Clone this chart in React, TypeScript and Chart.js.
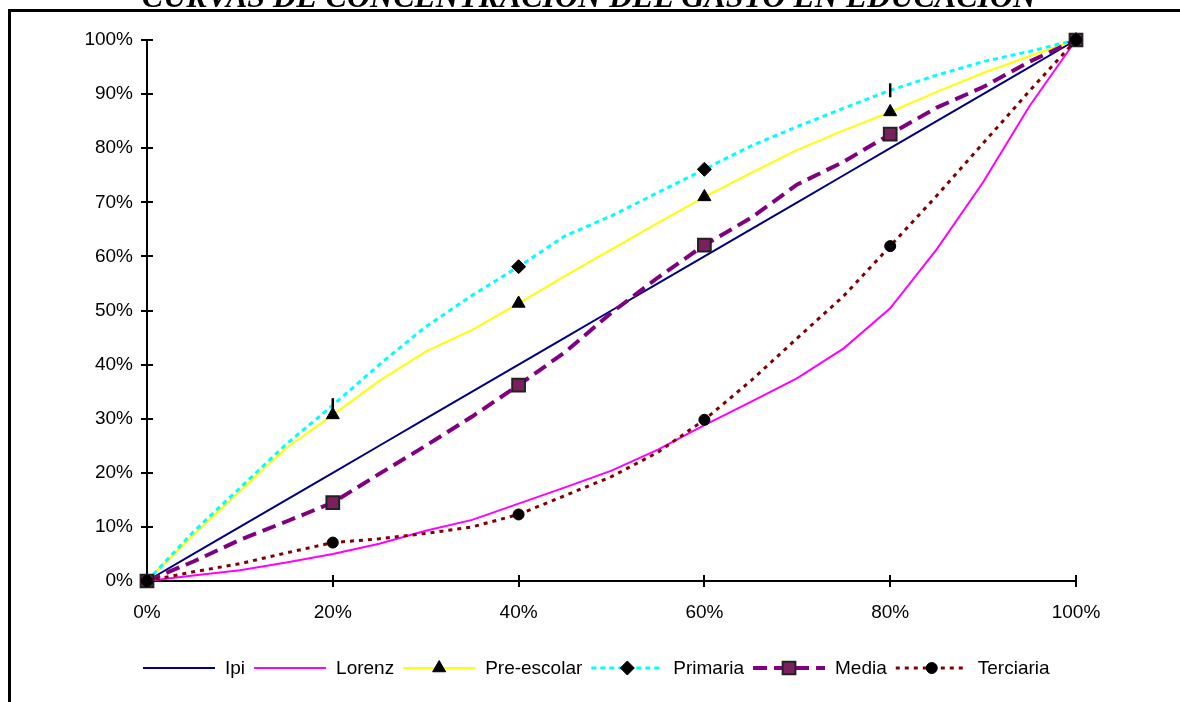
import React, { useEffect, useRef } from 'react';
import { Chart, registerables } from 'chart.js';
import { drawPoint } from 'chart.js/helpers';

Chart.register(...registerables);

const TITLE = 'CURVAS DE CONCENTRACIÓN DEL GASTO EN EDUCACIÓN';

// cumulative share of population (%)
const pct = [0, 5, 10, 15, 20, 25, 30, 35, 40, 45, 50, 55, 60, 65, 70, 75, 80, 85, 90, 95, 100];
const xTickValues = [0, 20, 40, 60, 80, 100];
const yTickValues = [0, 10, 20, 30, 40, 50, 60, 70, 80, 90, 100];

// cumulative share of spending (%)
const ipi = [0, 5, 10, 15, 20, 25, 30, 35, 40, 45, 50, 55, 60, 65, 70, 75, 80, 85, 90, 95, 100];
const lorenz = [0, 1.0, 2.0, 3.4, 5.0, 6.9, 9.3, 11.3, 14.3, 17.3, 20.4, 24.3, 28.8, 33.1, 37.5, 43.0, 50.4, 61.3, 73.7, 87.8, 100];
const preEscolar = [0, 8.5, 16.6, 24.6, 30.7, 37.0, 42.4, 46.4, 51.3, 56.4, 61.3, 66.2, 71.0, 75.4, 79.7, 83.3, 86.7, 90.4, 93.9, 97.0, 100];
const primaria = [0, 9.1, 17.2, 25.3, 32.5, 40.0, 47.0, 52.8, 58.1, 63.8, 67.5, 71.8, 76.1, 80.4, 84.0, 87.4, 90.7, 93.5, 96.0, 97.9, 100];
const media = [0, 3.6, 7.6, 11.0, 14.5, 19.8, 25.0, 30.4, 36.2, 42.3, 49.6, 56.1, 62.1, 67.1, 73.3, 77.5, 82.6, 87.5, 91.3, 96.0, 100];
const terciaria = [0, 1.7, 3.2, 5.2, 7.1, 7.8, 8.8, 10.0, 12.3, 15.8, 19.3, 23.8, 29.8, 37.0, 44.9, 52.7, 61.9, 71.2, 80.9, 90.6, 100];

const seriesNames = ['Ipi', 'Lorenz', 'Pre-escolar', 'Primaria', 'Media', 'Terciaria'];

const FONT = '"Liberation Sans", Arial, sans-serif';

const isMarker = (i: number) => pct[i] % 20 === 0;

type MarkerStyle = { style: string; radius: number; fill: string; stroke: string; width: number } | null;

const legendMarkers: MarkerStyle[] = [
  null,
  null,
  { style: 'triangle', radius: 7.5, fill: '#000', stroke: '#000', width: 1 },
  { style: 'rectRot', radius: 7, fill: '#000', stroke: '#000', width: 1 },
  { style: 'rect', radius: 9, fill: '#7B1F5E', stroke: '#222', width: 2 },
  { style: 'circle', radius: 5.5, fill: '#000', stroke: '#000', width: 1 },
];

const framePlugin = {
  id: 'frameTitle',
  beforeDraw(chart: any) {
    const ctx = chart.ctx;
    ctx.save();
    ctx.fillStyle = '#fff';
    ctx.fillRect(0, 0, chart.width, chart.height);
    ctx.fillStyle = '#000';
    ctx.fillRect(8, 9, chart.width - 8, 3);
    ctx.fillRect(8, 9, 3, chart.height - 9);
    ctx.font = 'bold italic 32px "Liberation Serif", "Times New Roman", serif';
    ctx.textAlign = 'center';
    ctx.textBaseline = 'alphabetic';
    ctx.fillText(TITLE, 589, 7);
    ctx.restore();
  },
};

const axesPlugin = {
  id: 'crossTicks',
  afterDatasetsDraw(chart: any) {
    const ctx = chart.ctx;
    const xs = chart.scales.x;
    const ys = chart.scales.y;
    const area = chart.chartArea;
    ctx.save();
    ctx.strokeStyle = '#000';
    ctx.lineWidth = 2;
    ctx.beginPath();
    ys.ticks.forEach((t: any) => {
      const py = Math.round(ys.getPixelForValue(t.value));
      ctx.moveTo(area.left - 6, py);
      ctx.lineTo(area.left + 6, py);
    });
    xs.ticks.forEach((t: any) => {
      const px = Math.round(xs.getPixelForValue(t.value));
      ctx.moveTo(px, area.bottom - 6);
      ctx.lineTo(px, area.bottom + 6);
    });
    ctx.stroke();
    ctx.restore();
  },
};

const legendPlugin = {
  id: 'lineLegend',
  afterDraw(chart: any) {
    const ctx = chart.ctx;
    const y = 668;
    let x = chart.chartArea.left - 4;
    ctx.save();
    ctx.font = `19px ${FONT}`;
    ctx.textBaseline = 'middle';
    ctx.textAlign = 'left';
    chart.data.datasets.forEach((ds: any, i: number) => {
      ctx.beginPath();
      ctx.setLineDash(ds.borderDash || []);
      ctx.lineWidth = ds.borderWidth;
      ctx.strokeStyle = ds.borderColor;
      ctx.moveTo(x, y);
      ctx.lineTo(x + 72, y);
      ctx.stroke();
      ctx.setLineDash([]);
      const m = legendMarkers[i];
      if (m) {
        ctx.fillStyle = m.fill;
        ctx.strokeStyle = m.stroke;
        ctx.lineWidth = m.width;
        drawPoint(ctx, { pointStyle: m.style as any, radius: m.radius, rotation: 0, borderWidth: m.width }, x + 36, y);
      }
      ctx.fillStyle = '#000';
      const label = seriesNames[i];
      ctx.fillText(label, x + 82, y + 1);
      x += 82 + ctx.measureText(label).width + 9;
    });
    ctx.restore();
  },
};

export default function App() {
  const ref = useRef<HTMLCanvasElement | null>(null);

  useEffect(() => {
    if (!ref.current) return;
    const mk = (vals: number[]) => vals.map((v, i) => ({ x: pct[i], y: v }));
    const chart = new Chart(ref.current, {
      type: 'line',
      data: {
        datasets: [
          {
            label: seriesNames[0],
            data: mk(ipi),
            borderColor: '#000080',
            borderWidth: 2,
            pointRadius: 0,
            order: 5,
            clip: false,
          },
          {
            label: seriesNames[1],
            data: mk(lorenz),
            borderColor: '#FF00FF',
            borderWidth: 2,
            pointRadius: 0,
            order: 4,
            clip: false,
          },
          {
            label: seriesNames[2],
            data: mk(preEscolar),
            borderColor: '#FFFF00',
            borderWidth: 2,
            pointStyle: 'triangle',
            pointRadius: (c: any) => (isMarker(c.dataIndex) ? 7.5 : 0),
            pointBackgroundColor: '#000',
            pointBorderColor: '#000',
            pointBorderWidth: 1,
            order: 3,
            clip: false,
          },
          {
            label: seriesNames[3],
            data: mk(primaria),
            borderColor: '#00FFFF',
            borderWidth: 3,
            borderDash: [5, 4],
            pointStyle: (c: any) => (pct[c.dataIndex] === 20 || pct[c.dataIndex] === 80 ? 'line' : 'rectRot'),
            pointRotation: (c: any) => (pct[c.dataIndex] === 20 || pct[c.dataIndex] === 80 ? 90 : 0),
            pointRadius: (c: any) => (isMarker(c.dataIndex) ? 7 : 0),
            pointBackgroundColor: '#000',
            pointBorderColor: '#000',
            pointBorderWidth: (c: any) => (pct[c.dataIndex] === 20 || pct[c.dataIndex] === 80 ? 2.5 : 1),
            order: 2,
            clip: false,
          },
          {
            label: seriesNames[4],
            data: mk(media),
            borderColor: '#800080',
            borderWidth: 4,
            borderDash: [14, 7],
            pointStyle: 'rect',
            pointRadius: (c: any) => (isMarker(c.dataIndex) ? 9 : 0),
            pointBackgroundColor: '#7B1F5E',
            pointBorderColor: '#222',
            pointBorderWidth: 2,
            order: 1,
            clip: false,
          },
          {
            label: seriesNames[5],
            data: mk(terciaria),
            borderColor: '#800000',
            borderWidth: 3,
            borderDash: [4, 5],
            pointStyle: 'circle',
            pointRadius: (c: any) => (isMarker(c.dataIndex) ? 5.5 : 0),
            pointBackgroundColor: '#000',
            pointBorderColor: '#000',
            pointBorderWidth: 1,
            order: 0,
            clip: false,
          },
        ] as any,
      },
      options: {
        responsive: false,
        animation: false,
        events: [],
        layout: { padding: { left: 0, top: 40, right: 104, bottom: 0 } },
        plugins: {
          legend: { display: false },
          title: { display: false },
          tooltip: { enabled: false },
        },
        elements: { line: { tension: 0 } },
        scales: {
          x: {
            type: 'linear',
            min: 0,
            max: 100,
            afterBuildTicks: (s: any) => {
              s.ticks = xTickValues.map((v) => ({ value: v }));
            },
            afterFit: (s: any) => {
              s.height = 121;
            },
            grid: { display: false },
            border: { display: true, color: '#000', width: 2 },
            ticks: {
              color: '#000',
              padding: 12,
              maxRotation: 0,
              font: { family: FONT, size: 19 },
              callback: (v: any) => `${v}%`,
            },
          },
          y: {
            type: 'linear',
            min: 0,
            max: 100,
            afterBuildTicks: (s: any) => {
              s.ticks = yTickValues.map((v) => ({ value: v }));
            },
            afterFit: (s: any) => {
              s.width = 147;
            },
            grid: { display: false },
            border: { display: true, color: '#000', width: 2 },
            ticks: {
              color: '#000',
              padding: 6,
              font: { family: FONT, size: 19 },
              callback: (v: any) => `${v}%`,
            },
          },
        },
      },
      plugins: [framePlugin, axesPlugin, legendPlugin],
    } as any);
    return () => chart.destroy();
  }, []);

  return (
    <div style={{ position: 'absolute', left: 0, top: 0, width: 1180, height: 702, background: '#fff' }}>
      <canvas ref={ref} width={1180} height={702} style={{ display: 'block' }} />
    </div>
  );
}
